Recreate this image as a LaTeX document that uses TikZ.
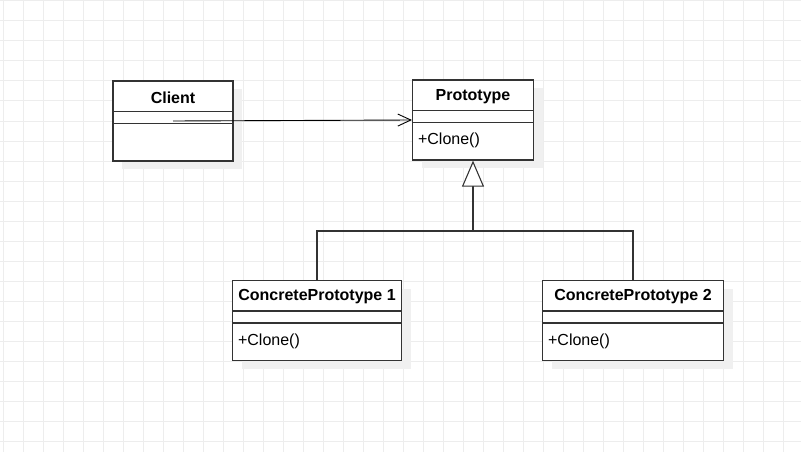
\documentclass[tikz,border=0pt]{standalone}
\usepackage{fontspec}
\setmainfont{Liberation Sans}
\usetikzlibrary{arrows.meta,calc,shadows}

\begin{document}
\begin{tikzpicture}[x=1pt,y=-1pt,
              gridline/.style={draw=black!7,line width=1pt},
              classbox/.style={draw=black!80,line width=1.2pt,fill=white,
                  minimum height=80pt,inner sep=0pt,
                  general shadow={fill=black!6,shadow xshift=9pt,shadow yshift=-8pt}},
              sep/.style={draw=black!80,line width=1.2pt},
              title/.style={font=\fontsize{16}{18}\selectfont\bfseries},
              method/.style={anchor=west,inner sep=2pt,font=\fontsize{16}{18}\selectfont},
              assoc/.style={-{Straight Barb[length=13pt,width=12pt]},line width=0.9pt},
              gen/.style={draw=black!80,line width=1.1pt}
            ]
            \useasboundingbox[fill=white] (0,0) rectangle (801,452);
            \foreach \x in {3,23,...,783} \draw[gridline] (\x,0) -- (\x,452);
            \foreach \y in {1,21,...,441} \draw[gridline] (0,\y) -- (801,\y);
            % class boxes
            \foreach \name/\x/\y/\w/\title/\method in {
                client/173/121/120/Client/{},
                proto/473/120/121/Prototype/+Clone(),
                cp1/317/320.5/169/ConcretePrototype 1/+Clone(),
                cp2/633/320.5/181/ConcretePrototype 2/+Clone()} {
              \node[classbox,minimum width=\w pt] (\name) at (\x,\y) {};
              \node[title] (\name-title) at ($(\name.north)+(0,17)$) {\title};
              \node[method] (\name-method) at ($(\name.north west)+(4,61)$) {\method};
              \draw[sep] ($(\name.north west)+(0,31)$) -- ($(\name.north east)+(0,31)$);
              \draw[sep] ($(\name.north west)+(0,43)$) -- ($(\name.north east)+(0,43)$);
            }
            \coordinate (joint) at (473,231);
            \draw[assoc] (client.center) -- (proto.west);
            \draw[gen,-{Triangle[open,length=26pt,width=22pt,fill=white]}]
              (cp1.north) |- (joint) -- (proto.south);
            \draw[gen] (cp2.north) |- (joint);
          \end{tikzpicture}
\end{document}
